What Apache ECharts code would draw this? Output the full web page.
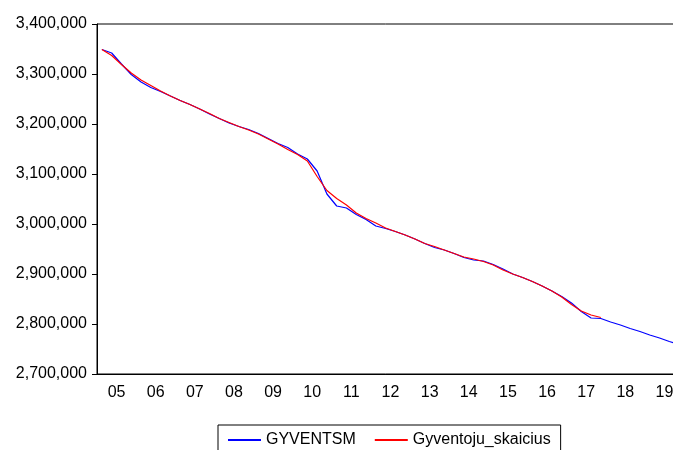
<!DOCTYPE html>
<html>
<head>
<meta charset="utf-8">
<script src="https://cdn.jsdelivr.net/npm/echarts@6/dist/echarts.min.js"></script>
<style>
  html, body { margin: 0; padding: 0; background: #fff; }
  #chart { width: 673px; height: 450px; }
</style>
</head>
<body>
<div id="chart"></div>
<script>
// year labels on the axis, data is quarterly 2005Q1 - 2019Q4
var years = ['05','06','07','08','09','10','11','12','13','14','15','16','17','18','19'];
var quarters = ['Q1','Q2','Q3','Q4'];

// GYVENTSM (blue)
var gyventsm = [
  3349000, 3342000, 3320000, 3299000,
  3284000, 3273000, 3265000, 3256000,
  3247000, 3239000, 3230000, 3220000,
  3211000, 3202000, 3195000, 3189000,
  3181000, 3171000, 3161000, 3153000,
  3140000, 3130000, 3106000, 3060000,
  3036000, 3032000, 3019000, 3009000,
  2996000, 2991000, 2985000, 2978000,
  2970000, 2961000, 2953000, 2948000,
  2941000, 2933000, 2928000, 2926000,
  2919000, 2910000, 2900000, 2893000,
  2885000, 2876000, 2866000, 2855000,
  2842000, 2825000, 2812000, 2811000,
  2804000, 2798000, 2791000, 2785000,
  2778000, 2772000, 2765000, 2759000
];

// Gyventoju_skaicius (red), ends in 2017Q4
var gyventojuSkaicius = [
  3349000, 3337000, 3319000, 3302000,
  3288000, 3277000, 3266000, 3256000,
  3247000, 3239000, 3230000, 3221000,
  3211000, 3203000, 3195000, 3188000,
  3180000, 3170000, 3160000, 3149000,
  3139000, 3126000, 3095000, 3067000,
  3051000, 3038000, 3022000, 3011000,
  3002000, 2992000, 2985000, 2978000,
  2970000, 2961000, 2955000, 2948000,
  2941000, 2934000, 2930000, 2925000,
  2918000, 2908000, 2900000, 2893000,
  2885000, 2876000, 2866000, 2854000,
  2839000, 2826000, 2818000, 2813000
];

var yMin = 2700000, yMax = 3400000, yStep = 100000;

var quarterCats = [];
years.forEach(function (y) {
  quarters.forEach(function (q) { quarterCats.push('20' + y + q); });
});

var font = 'Liberation Sans, Arial, sans-serif';

var chart = echarts.init(document.getElementById('chart'), null, { renderer: 'canvas' });
chart.setOption({
  animation: false,
  backgroundColor: '#fff',
  textStyle: { fontFamily: font },
  grid: {
    left: 97, top: 24, width: 587, height: 350,
    outerBoundsMode: 'none',
    show: true, borderColor: '#000', borderWidth: 1
  },
  legend: {
    left: 218, top: 425,
    padding: [7, 10, 8, 9],
    borderColor: '#000', borderWidth: 1,
    itemWidth: 33, itemHeight: 14, itemGap: 18,
    itemStyle: { opacity: 0 },
    textStyle: { fontSize: 16, color: '#000', fontFamily: font },
    data: ['GYVENTSM', 'Gyventoju_skaicius']
  },
  xAxis: [
    {
      type: 'category',
      data: quarterCats,
      boundaryGap: true,
      position: 'bottom',
      axisLine: { lineStyle: { color: '#000', width: 1 } },
      axisTick: { interval: 0, length: 4, lineStyle: { color: '#000' } },
      axisLabel: { show: false },
      splitLine: { show: false }
    },
    {
      type: 'category',
      data: years,
      boundaryGap: true,
      position: 'bottom',
      axisLine: { lineStyle: { color: '#000', width: 1 } },
      axisTick: { interval: 0, length: 7, lineStyle: { color: '#000' } },
      axisLabel: { interval: 0, fontSize: 16, color: '#000', margin: 11, fontFamily: font },
      splitLine: { show: false }
    }
  ],
  yAxis: {
    type: 'value',
    min: yMin, max: yMax, interval: yStep,
    axisLine: { show: true, lineStyle: { color: '#000' } },
    axisTick: { show: true, length: 5, lineStyle: { color: '#000' } },
    axisLabel: {
      fontSize: 16, color: '#000', margin: 10, fontFamily: font,
      formatter: function (v) { return v.toLocaleString('en-US'); }
    },
    splitLine: { show: false }
  },
  series: [
    {
      name: 'GYVENTSM',
      type: 'line',
      xAxisIndex: 0,
      data: gyventsm,
      symbol: 'none',
      lineStyle: { color: '#0000ff', width: 1.2 },
      itemStyle: { color: '#0000ff' }
    },
    {
      name: 'Gyventoju_skaicius',
      type: 'line',
      xAxisIndex: 0,
      data: gyventojuSkaicius,
      symbol: 'none',
      lineStyle: { color: '#ff0000', width: 1.2 },
      itemStyle: { color: '#ff0000' }
    }
  ]
});
</script>
</body>
</html>
